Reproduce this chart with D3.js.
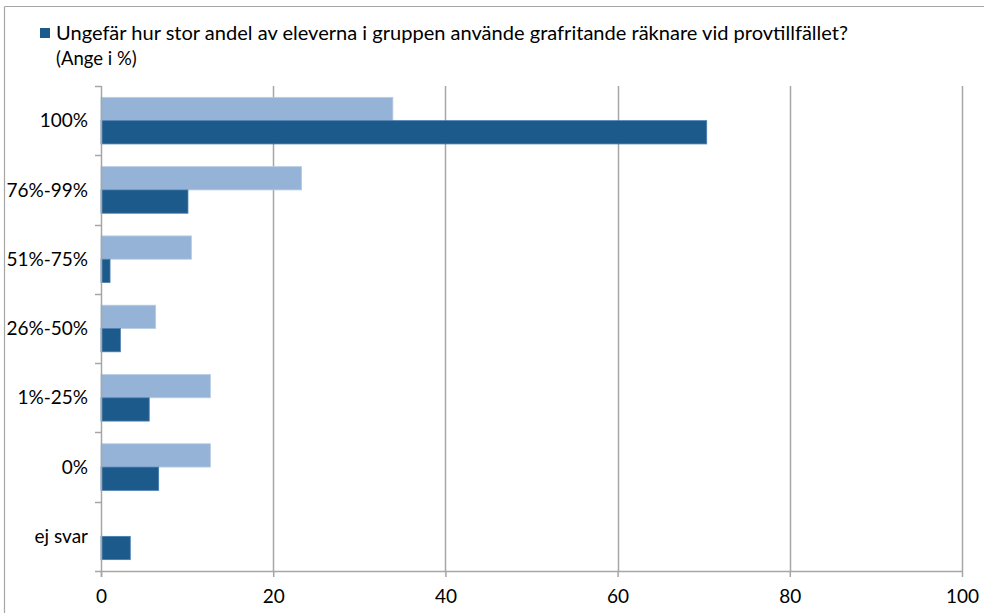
<!DOCTYPE html>
<html>
<head>
<meta charset="utf-8">
<script src="https://cdn.jsdelivr.net/npm/d3@7"></script>
<style>
  html, body { margin: 0; padding: 0; background: #fff; }
  svg { display: block; }
  text { font-family: Lato, "Open Sans", sans-serif; fill: #000; }
</style>
</head>
<body>
<svg id="chart" width="984" height="613"></svg>
<script>
// Answer groups, top to bottom
const categories = ["100%", "76%-99%", "51%-75%", "26%-50%", "1%-25%", "0%", "ej svar"];
// Comparison series (light) and the question's series (dark), in percent
const seriesLight = [33.9, 23.3, 10.5, 6.35, 12.7, 12.7, 0];
const seriesDark = [70.35, 10.1, 1.05, 2.25, 5.6, 6.7, 3.4];
const xTicks = [0, 20, 40, 60, 80, 100];
const legendLine1 = "Ungefär hur stor andel av eleverna i gruppen använde grafritande räknare vid provtillfället?";
const legendLine2 = "(Ange i %)";

const seriesKeys = ["light", "dark"];
const colors = { light: "#95B3D7", dark: "#1D5A8C" };
const strokes = { light: "#B8CCE4", dark: "#4A7DB0" };

const svg = d3.select("#chart");
const plot = { left: 101, right: 962, top: 86, bottom: 571 };

// Outer frame (left and top edges)
svg.append("line").attr("x1", 4.5).attr("x2", 4.5).attr("y1", 6.5).attr("y2", 613)
  .attr("stroke", "#A6A6A6").attr("stroke-width", 1.2);
svg.append("line").attr("x1", 4.5).attr("x2", 984).attr("y1", 6.5).attr("y2", 6.5)
  .attr("stroke", "#A6A6A6").attr("stroke-width", 1.2);

const x = d3.scaleLinear().domain([0, 100]).range([plot.left, plot.right]);
const y = d3.scaleBand().domain(categories).range([plot.top, plot.bottom]).padding(0);
const ySub = d3.scaleBand().domain(seriesKeys).range([0, y.bandwidth()])
  .paddingInner(0).paddingOuter(0.487);

// Vertical gridlines
svg.append("g").selectAll("line").data(xTicks.slice(1)).join("line")
  .attr("x1", d => Math.round(x(d)) + 0.5).attr("x2", d => Math.round(x(d)) + 0.5)
  .attr("y1", plot.top).attr("y2", plot.bottom)
  .attr("stroke", "#A6A6A6").attr("stroke-width", 1.5);

// Bars
const rows = categories.map((c, i) => ({ cat: c, light: seriesLight[i], dark: seriesDark[i] }));
const groups = svg.append("g").selectAll("g").data(rows).join("g")
  .attr("transform", d => `translate(0,${y(d.cat)})`);
groups.selectAll("rect")
  .data(d => seriesKeys.map(k => ({ key: k, value: d[k] })).filter(e => e.value > 0))
  .join("rect")
  .attr("x", x(0))
  .attr("y", d => ySub(d.key))
  .attr("width", d => x(d.value) - x(0))
  .attr("height", ySub.bandwidth())
  .attr("fill", d => colors[d.key])
  .attr("stroke", d => strokes[d.key])
  .attr("stroke-width", 0.8);

// X axis
const xAxis = svg.append("g").attr("transform", `translate(0,${plot.bottom})`)
  .call(d3.axisBottom(x).tickValues(xTicks).tickSize(6).tickPadding(13).tickFormat(d3.format("d")));
xAxis.select(".domain").attr("stroke", "#A6A6A6").attr("stroke-width", 1.5)
  .attr("d", `M${plot.left - 6},0.5H${plot.right + 1}`);
xAxis.selectAll(".tick line").attr("stroke", "#A6A6A6").attr("stroke-width", 1.5);
xAxis.selectAll(".tick text").style("font-size", "19px").attr("fill", "#000")
  .style("font-family", "Lato, sans-serif");

// Y axis with ticks between categories
const yAxisG = svg.append("g");
yAxisG.append("line").attr("x1", plot.left + 0.5).attr("x2", plot.left + 0.5)
  .attr("y1", plot.top).attr("y2", plot.bottom + 6)
  .attr("stroke", "#A6A6A6").attr("stroke-width", 1.5);
const boundaries = categories.map(c => y(c));
yAxisG.selectAll("line.tk").data(boundaries).join("line").attr("class", "tk")
  .attr("x1", plot.left - 6).attr("x2", plot.left)
  .attr("y1", d => Math.round(d) + 0.5).attr("y2", d => Math.round(d) + 0.5)
  .attr("stroke", "#A6A6A6").attr("stroke-width", 1.5);
yAxisG.selectAll("text").data(categories).join("text")
  .attr("x", plot.left - 13)
  .attr("y", d => y(d) + y.bandwidth() / 2)
  .attr("dy", "0.35em")
  .attr("text-anchor", "end")
  .style("font-size", "19px")
  .text(d => d);

// Legend
svg.append("rect").attr("x", 40).attr("y", 28).attr("width", 10).attr("height", 10)
  .attr("fill", colors.dark);
svg.append("text").attr("x", 56).attr("y", 40).style("font-size", "18.5px")
  .attr("textLength", 792).attr("lengthAdjust", "spacingAndGlyphs")
  .text(legendLine1);
svg.append("text").attr("x", 56).attr("y", 65).style("font-size", "18.5px")
  .text(legendLine2);
</script>
</body>
</html>
